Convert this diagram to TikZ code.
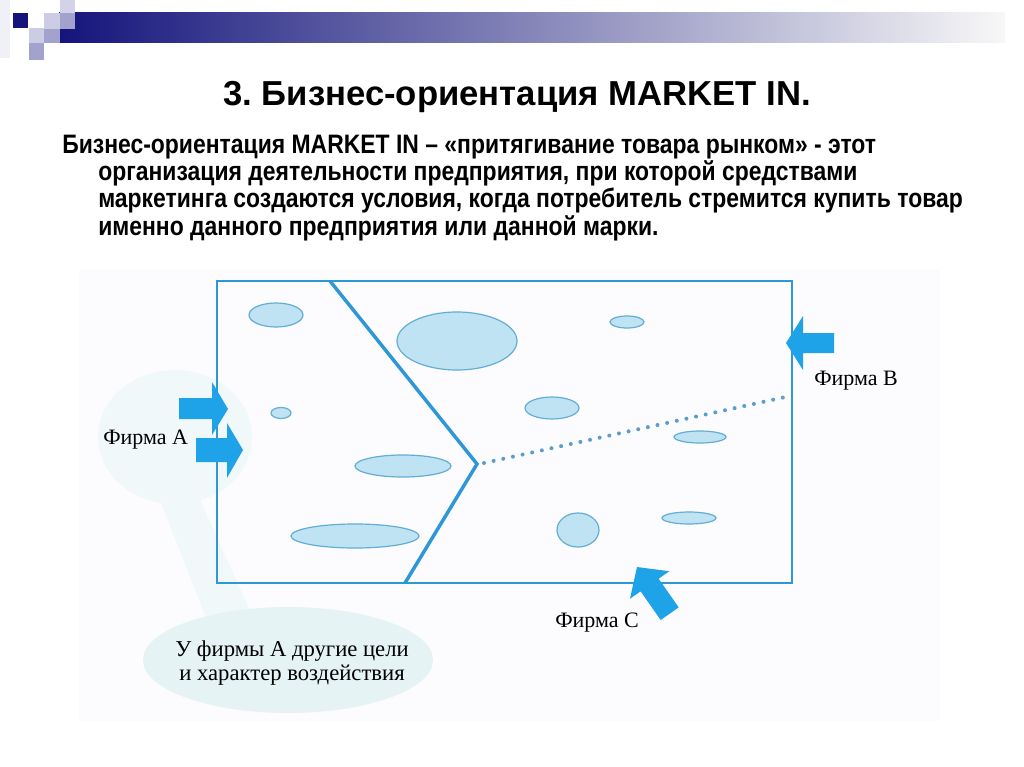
\documentclass[tikz,border=0pt]{standalone}
\usepackage{fontspec}
\setmainfont{Liberation Sans}
\newfontfamily\narrowfont[FakeStretch=0.86]{Liberation Sans}
\newfontfamily\serifru{Liberation Serif}
\usetikzlibrary{shapes.geometric}
\frenchspacing
\definecolor{navy}{HTML}{14147C}
\definecolor{lavA}{HTML}{CCCCE4}
\definecolor{lavB}{HTML}{A2A2CC}
\definecolor{lavC}{HTML}{D2D2E8}
\definecolor{frameblue}{HTML}{2E98D6}
\definecolor{arrowblue}{HTML}{1FA3E8}
\definecolor{ellfill}{HTML}{BFE3F2}
\definecolor{elldraw}{HTML}{62AED4}
\definecolor{dotblue}{HTML}{5A9ECB}
\definecolor{bubble}{HTML}{E5F3F4}
\definecolor{halo}{HTML}{F0F8F9}
\definecolor{panel}{HTML}{FCFBFD}
\tikzset{
  blob/.style={fill=ellfill, draw=elldraw, line width=0.9pt},
  firmlabel/.style={font=\serifru\fontsize{16.5pt}{19pt}\selectfont, inner sep=0pt, anchor=base west},
  bodyline/.style={font=\narrowfont\bfseries\fontsize{20pt}{22pt}\selectfont, inner sep=0pt, anchor=base west},
  fat/.style={fill=arrowblue, draw=none}
}
\begin{document}
\begin{tikzpicture}[x=0.75pt,y=-0.75pt]
\useasboundingbox (0,0) rectangle (1024,767);
\fill[white] (0,0) rectangle (1024,767);
% header decoration
\fill[color=halo!50!lavC, opacity=0.5] (0,0) rectangle (10,58);
\shade[left color=navy, right color=white!94!gray] (59,13) rectangle (1005,43);
\fill[navy] (13,13) rectangle (28,28);
\fill[lavA] (29,28) rectangle (44,43);
\fill[lavB] (29,43) rectangle (44,60);
\fill[lavA] (44,13) rectangle (60,29);
\fill[lavB] (44,29) rectangle (60,43);
\fill[lavC] (60,0) rectangle (75,13);
\fill[lavB] (60,13) rectangle (75,29);
% title
\node[font=\bfseries\fontsize{26pt}{30pt}\selectfont, inner sep=0pt, anchor=base] (title) at (517,105) {3. Бизнес-ориентация MARKET IN.};
% body text
\node[bodyline] (l1) at (62,153) {Бизнес-ориентация MARKET IN – «притягивание товара рынком» - этот};
\node[bodyline] (l2) at (98,180) {организация деятельности предприятия, при которой средствами};
\node[bodyline] (l3) at (98,207) {маркетинга создаются условия, когда потребитель стремится купить товар};
\node[bodyline] (l4) at (98,235) {именно данного предприятия или данной марки.};
% panel
\fill[panel] (79,270) rectangle (940,721);
% bubble and halo
\fill[halo] (175,437) ellipse [x radius=77, y radius=67];
\fill[halo] (160,500) -- (200,500) -- (252,615) -- (205,615) -- cycle;
\fill[bubble] (288,660) ellipse [x radius=145, y radius=53];
\node[font=\serifru\fontsize{17pt}{17.5pt}\selectfont, align=center, inner sep=0pt] (note) at (292,663) {У фирмы А другие цели\\и характер воздействия};
% main frame
\draw[frameblue, line width=1.9pt] (217,281) rectangle (792,583);
% ellipses
\draw[blob] (276,315) ellipse [x radius=27, y radius=12];
\draw[blob] (457,341) ellipse [x radius=60, y radius=29];
\draw[blob] (627,322) ellipse [x radius=17, y radius=6];
\draw[blob] (281,413) ellipse [x radius=10, y radius=5.5];
\draw[blob] (552,408) ellipse [x radius=27, y radius=11];
\draw[blob] (700,437) ellipse [x radius=26, y radius=6];
\draw[blob] (403,466) ellipse [x radius=48, y radius=11];
\draw[blob] (689,518) ellipse [x radius=27, y radius=6];
\draw[blob] (578,530) ellipse [x radius=21, y radius=17];
\draw[blob] (355,536) ellipse [x radius=64, y radius=12];
% boundary
\coordinate (btop) at (330,281);
\coordinate (bmid) at (477,464);
\coordinate (bbot) at (405,583);
\coordinate (dstart) at (484,463);
\coordinate (dend) at (790,396);
\draw[frameblue, line width=2.6pt, line join=miter] (btop) -- (bmid) -- (bbot);
\draw[dotblue, line width=3pt, line cap=round, dash pattern=on 0pt off 7.4pt] (dstart) -- (dend);
% firm A arrows
\fill[fat] (179,398) -- (212,398) -- (212,382) -- (228,409) -- (212,435) -- (212,419) -- (179,419) -- cycle;
\fill[fat] (196,438) -- (227,438) -- (227,423) -- (243,450) -- (227,478) -- (227,462) -- (196,462) -- cycle;
% firm B arrow
\fill[fat] (786,343) -- (803,316) -- (803,333) -- (834,333) -- (834,353) -- (803,353) -- (803,370) -- cycle;
% firm C arrow
\fill[fat, shift={(637,567)}, rotate=125] (0,0) -- (-22,-24) -- (-22,-11) -- (-57,-11) -- (-57,11) -- (-22,11) -- (-22,24) -- cycle;
% labels
\node[firmlabel] (fa) at (103,444) {Фирма A};
\node[firmlabel] (fb) at (814,385) {Фирма B};
\node[firmlabel] (fc) at (555,627) {Фирма C};
\end{tikzpicture}
\end{document}
